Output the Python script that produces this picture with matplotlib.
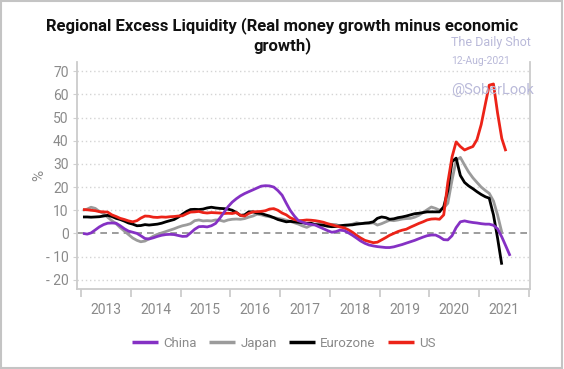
import pandas as pd
import numpy as np
import matplotlib
matplotlib.use("Agg")
import matplotlib.pyplot as plt
import matplotlib.dates as mdates
from matplotlib.ticker import FuncFormatter, FixedLocator
from matplotlib.patches import Rectangle

plt.rcParams['font.family'] = ['Roboto', 'DejaVu Sans']

# monthly values, starting Dec 2012
china = [0.0,
         -0.3, 0.2, 1.5, 2.8, 3.8, 4.4, 4.5, 4.4, 3.3, 2.0, 1.0, 0.5,
         0.0, -1.0, -2.2, -2.4, -1.9, -1.3, -0.8, -0.5, -0.4, -0.5, -0.9, -1.3,
         -1.2, 0.2, 1.8, 2.9, 3.0, 2.8, 3.3, 4.3, 6.5, 9.0, 11.5, 13.5,
         15.0, 16.2, 17.2, 18.0, 18.8, 19.6, 20.4, 20.6, 20.5, 20.0, 18.5, 16.5,
         13.0, 10.0, 7.5, 5.5, 4.8, 4.2, 3.9, 3.6, 2.8, 2.0, 1.2, 0.5,
         0.8, 1.4, 1.2, 0.3, -0.8, -2.0, -3.3, -4.3, -5.0, -5.4, -5.7, -5.9,
         -6.1, -6.1, -5.8, -5.3, -4.8, -4.2, -3.6, -3.0, -2.3, -1.6, -1.0, -0.7,
         -0.7, -1.5, -2.7, -2.8, -1.0, 2.5, 5.0, 5.4, 5.0, 4.7, 4.5, 4.2,
         4.0, 4.0, 3.5, 2.0, -1.5, -5.5, -9.7]

japan = [10.0,
         10.5, 11.3, 10.8, 9.5, 8.5, 7.0, 5.5, 4.2, 2.5, 1.0, -0.5, -2.0,
         -3.0, -3.6, -3.3, -2.3, -1.2, -0.4, 0.2, 0.8, 1.4, 2.0, 2.7, 3.3,
         3.7, 4.2, 5.5, 5.8, 5.4, 5.5, 5.4, 5.8, 5.7, 5.2, 5.8, 6.1,
         6.2, 6.1, 6.4, 7.0, 7.5, 8.3, 8.0, 7.5, 7.2, 6.8, 6.5, 6.2,
         5.7, 5.2, 4.6, 4.0, 3.2, 2.6, 3.5, 4.0, 4.3, 4.2, 4.0, 3.9,
         3.8, 3.2, 3.5, 3.6, 4.0, 4.6, 4.2, 4.5, 4.3, 4.6, 3.6, 4.2,
         5.0, 5.7, 5.5, 5.8, 6.2, 6.4, 6.5, 7.0, 7.8, 9.0, 10.2, 11.4,
         10.8, 10.0, 11.0, 13.0, 23.0, 31.5, 32.8, 29.5, 26.5, 24.0, 22.0, 20.0,
         18.5, 17.3, 14.0, 8.0, 0.5]

eurozone = [7.1,
            7.1, 7.0, 7.1, 7.2, 7.5, 7.8, 7.3, 6.5, 6.0, 5.3, 4.5, 4.0,
            3.3, 3.4, 3.8, 3.6, 3.8, 4.0, 4.4, 5.0, 5.5, 6.0, 7.0, 8.3,
            9.5, 10.3, 10.4, 10.3, 10.5, 11.0, 11.3, 11.0, 10.8, 10.7, 10.5, 10.0,
            9.0, 7.8, 8.0, 9.3, 9.3, 8.8, 8.6, 8.0, 7.5, 6.8, 6.0, 5.5,
            5.0, 5.2, 5.0, 4.8, 4.6, 4.3, 4.4, 3.8, 3.6, 3.5, 3.1, 2.9,
            3.0, 3.3, 3.5, 3.6, 3.7, 4.0, 4.2, 4.4, 4.6, 5.0, 6.5, 7.1,
            6.8, 6.1, 6.3, 6.8, 7.1, 7.5, 8.0, 8.5, 8.7, 9.0, 9.3, 9.3,
            9.3, 9.3, 11.5, 18.5, 31.0, 32.5, 25.0, 22.0, 20.5, 19.3, 18.0, 16.8,
            15.8, 15.2, 8.0, -2.0, -13.5]

us = [10.3,
      10.2, 10.0, 9.8, 9.4, 9.3, 9.2, 8.0, 7.3, 6.5, 6.0, 5.4, 5.0,
      5.5, 6.6, 7.5, 7.4, 7.0, 6.9, 7.1, 7.0, 7.2, 7.3, 7.5, 7.6,
      8.5, 9.2, 9.3, 9.5, 9.0, 8.8, 9.0, 8.9, 8.8, 8.6, 8.7, 8.6,
      9.0, 7.8, 7.5, 8.6, 9.3, 9.4, 9.5, 9.8, 10.5, 10.7, 10.0, 8.8,
      8.0, 6.8, 6.0, 5.5, 5.6, 5.8, 5.7, 5.5, 5.2, 4.8, 4.2, 3.7,
      3.2, 2.8, 2.4, 1.6, 0.5, -0.8, -2.0, -3.0, -3.5, -4.0, -3.8, -2.8,
      -1.8, -0.8, 0.0, 0.8, 1.4, 1.8, 2.7, 3.5, 4.3, 5.0, 5.8, 6.2,
      6.3, 6.1, 8.0, 22.0, 33.0, 39.5, 37.5, 36.0, 36.8, 37.5, 40.5, 47.0,
      56.0, 64.0, 64.5, 52.0, 41.0, 35.5]

series = [
    ('China', china, '#8531c4'),
    ('Japan', japan, '#9b9b9b'),
    ('Eurozone', eurozone, '#000000'),
    ('US', us, '#ec2318'),
]

years = list(range(2013, 2022))

fig = plt.figure(figsize=(5.64, 3.69), dpi=100)
ax = fig.add_axes([0.1365, 0.2168, 0.8032, 0.6152])

lines = {}
for name, vals, col in [series[1], series[2], series[3], series[0]]:
    dates = pd.date_range('2012-12-15', periods=len(vals), freq='MS') + pd.Timedelta(days=14)
    ln, = ax.plot(dates, vals, color=col, lw=2.0, label=name, solid_capstyle='butt')
    lines[name] = ln

ax.set_xlim(pd.Timestamp('2012-12-02'), pd.Timestamp('2022-01-08'))
ax.set_ylim(-24, 74)

# grid
for v in range(-20, 80, 10):
    if v == 0:
        ax.axhline(0, color='#8c8c8c', lw=1.2, ls=(0, (4, 3)), zorder=0)
    else:
        ax.axhline(v, color='#d4d4d4', lw=1.0, ls=(0, (1, 2)), zorder=0)

ax.set_yticks(range(-20, 80, 10))
ax.yaxis.set_major_formatter(FuncFormatter(lambda v, p: f"- {abs(int(v))}" if v < 0 else f"{int(v)}"))

major = [mdates.date2num(pd.Timestamp(f'{y}-01-01')) for y in years + [2022]]
minor = [mdates.date2num(pd.Timestamp(f'{y}-07-02')) for y in years]
ax.xaxis.set_major_locator(FixedLocator(major))
ax.xaxis.set_minor_locator(FixedLocator(minor))
ax.xaxis.set_major_formatter(FuncFormatter(lambda v, p: ''))
ax.xaxis.set_minor_formatter(FuncFormatter(lambda v, p: str(mdates.num2date(v).year)))
ax.tick_params(axis='x', which='major', length=6, color='#c8c8c8', width=1.2)
ax.tick_params(axis='x', which='minor', length=0, pad=10, labelsize=10, labelcolor='#8a8a8a')
ax.tick_params(axis='y', length=3, color='#d0d0d0', labelsize=10, labelcolor='#8a8a8a', pad=3)

for s in ['left', 'bottom', 'right']:
    ax.spines[s].set_color('#cccccc')
    ax.spines[s].set_linewidth(1.3)
ax.spines['top'].set_visible(False)

ax.set_ylabel('%', fontsize=11, color='#8a8a8a', labelpad=0)

fig.text(0.5, 0.930, 'Regional Excess Liquidity (Real money growth minus economic',
         ha='center', va='center', fontsize=12, fontweight='bold', color='#111111')
fig.text(0.5, 0.876, 'growth)',
         ha='center', va='center', fontsize=12, fontweight='bold', color='#111111')

wm = '#b9b9d9'
fig.text(0.80, 0.884, 'The Daily Shot', fontsize=9, color=wm, ha='left', va='center')
fig.text(0.80, 0.834, '12-Aug-2021', fontsize=7.5, color=wm, ha='left', va='center')
fig.text(0.80, 0.756, '@SoberLook', fontsize=10.5, color=wm, ha='left', va='center')

leg = fig.legend([lines[n] for n, _, _ in series], [n for n, _, _ in series],
                 loc='center', bbox_to_anchor=(0.503, 0.07), ncol=4, frameon=False,
                 fontsize=9.5, handlelength=2.0, handletextpad=0.4, columnspacing=0.9,
                 labelcolor='#8a8a8a')
for h in leg.legend_handles:
    h.set_linewidth(2.5)

fig.patches.append(Rectangle((0.002, 0.003), 0.995, 0.994, transform=fig.transFigure,
                             fill=False, edgecolor='#c4c4c4', lw=1.5))

fig.savefig('out.png', dpi=100)
